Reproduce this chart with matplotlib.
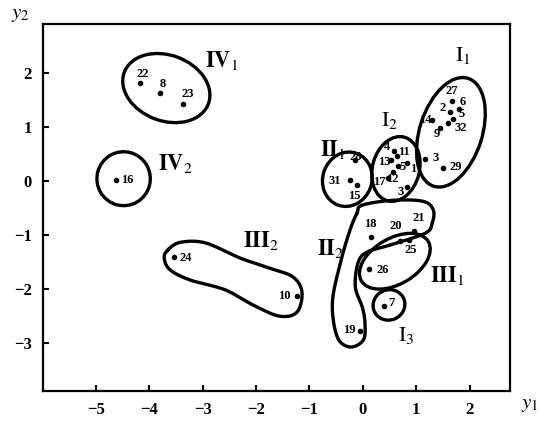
import numpy as np
import matplotlib
matplotlib.use("Agg")
import matplotlib.pyplot as plt
from matplotlib.patches import Ellipse

plt.rcParams['font.family'] = ['Liberation Serif', 'DejaVu Serif']
plt.rcParams['mathtext.fontset'] = 'stix'

# -- sample scores (y1, y2) and labels
ids   = ['22', '8', '23', '16', '24', '10',
         '27', '6', '2', '5', '32', '14', '9', '3', '29',
         '4', '11', '13', '5', '12', '1', '17', '3',
         '28', '31', '15',
         '18', '20', '21', '25', '26', '7', '19']
y1    = [-4.18, -3.80, -3.37, -4.62, -3.53, -1.24,
         1.67, 1.80, 1.63, 1.69, 1.60, 1.30, 1.45, 1.17, 1.50,
         0.59, 0.64, 0.53, 0.66, 0.57, 0.83, 0.47, 0.83,
         -0.14, -0.24, -0.11,
         0.16, 0.70, 0.96, 0.87, 0.12, 0.40, -0.05]
y2    = [1.82, 1.62, 1.43, 0.01, -1.42, -2.13,
         1.48, 1.33, 1.27, 1.14, 1.07, 1.12, 0.98, 0.40, 0.24,
         0.55, 0.46, 0.38, 0.27, 0.16, 0.33, 0.05, -0.12,
         0.38, 0.01, -0.08,
         -1.04, -1.12, -0.93, -1.10, -1.64, -2.32, -2.79]
# label offsets in pixels
offs  = [(3, 9), (3, 9), (5, 10), (11, 0), (11, -1), (-12, 0),
         (0, 10), (4, 7), (-7, 4), (9, 5), (13, -5), (-7, 0), (-3, -6), (10, 1), (13, 1),
         (-7, 4), (7, 4), (-7, -2), (5, -1), (-1, -7), (6, -6), (-9, -4), (-7, -5),
         (0, 3), (-15, -1), (-3, -11),
         (-1, 13), (-4, 15), (5, 13), (1, -10), (13, -1), (7, 3), (-11, 1)]

# -- groups drawn as ellipses: centre, width, height, angle
ell_x   = [-3.68, -4.48, 1.65, 0.62, -0.29, 0.60, 0.49]
ell_y   = [1.72, 0.04, 0.90, 0.22, 0.03, -1.49, -2.30]
ell_w   = [1.68, 1.00, 2.10, 0.88, 0.92, 1.45, 0.60]
ell_h   = [1.22, 1.00, 1.17, 1.22, 1.02, 0.85, 0.56]
ell_ang = [-20, 30, 72, -15, -20, 30, 20]

# -- irregular group outlines (III2 and II2)
out3_x = [-3.65, -3.42, -2.95, -2.30, -1.74, -1.31, -1.14, -1.23, -1.55, -2.02, -2.58, -3.23, -3.61, -3.72]
out3_y = [-1.28, -1.14, -1.15, -1.43, -1.62, -1.78, -2.06, -2.43, -2.51, -2.32, -2.02, -1.84, -1.65, -1.43]
out2_x = [-0.11, -0.01, 0.57, 1.13, 1.32, 1.30, 1.17, 0.51, 0.08, -0.09, -0.14, -0.01, 0.04, 0.01, -0.24, -0.48, -0.57, -0.42, -0.24]
out2_y = [-0.60, -0.45, -0.36, -0.38, -0.54, -0.78, -0.97, -1.19, -1.32, -1.52, -1.97, -2.34, -2.63, -2.95, -3.08, -2.89, -2.26, -1.52, -0.91]

# -- group names
grp_txt = [r'$\mathbf{IV}_1$', r'$\mathbf{IV}_2$', r'$\mathbf{III}_2$', r'$\mathrm{I}_1$', r'$\mathrm{I}_2$',
           r'$\mathbf{II}_1$', r'$\mathbf{II}_2$', r'$\mathbf{III}_1$', r'$\mathrm{I}_3$']
grp_x   = [-2.95, -3.83, -2.24, 1.73, 0.34, -0.80, -0.86, 1.26, 0.66]
grp_y   = [2.24, 0.33, -1.10, 2.33, 1.12, 0.58, -1.25, -1.75, -2.86]

xticks = [-5, -4, -3, -2, -1, 0, 1, 2]
yticks = [-3, -2, -1, 0, 1, 2]


def closedSpline(px, py, n=20):
    """ Catmull-Rom closed curve through the outline vertices """
    P = np.column_stack([px, py])
    m = len(P)
    pts = []
    for i in range(m):
        p0, p1, p2, p3 = P[i-1], P[i], P[(i+1) % m], P[(i+2) % m]
        for t in np.linspace(0, 1, n, endpoint=False):
            t2, t3 = t*t, t*t*t
            pts.append(0.5*((2*p1) + (-p0+p2)*t + (2*p0-5*p1+4*p2-p3)*t2 + (-p0+3*p1-3*p2+p3)*t3))
    pts.append(pts[0])
    pts = np.array(pts)
    return pts[:, 0], pts[:, 1]


fig = plt.figure(figsize=(5.49, 4.21), dpi=100)
ax = fig.add_axes([0.0783, 0.072, 0.851, 0.870])

lw = 2.4
for cx, cy, w, h, a in zip(ell_x, ell_y, ell_w, ell_h, ell_ang):
    ax.add_patch(Ellipse((cx, cy), w, h, angle=a, fill=False, lw=lw, ec='black'))
for ox, oy in [(out3_x, out3_y), (out2_x, out2_y)]:
    sx, sy = closedSpline(ox, oy)
    ax.plot(sx, sy, '-', c='black', lw=lw)

ax.plot(y1, y2, 'o', c='black', ms=3)
for lab, xx, yy, (dx, dy) in zip(ids, y1, y2, offs):
    ax.annotate(lab, (xx, yy), xytext=(dx, dy), textcoords='offset pixels',
                ha='center', va='center', fontsize=9, fontweight='bold')

for t, gx, gy in zip(grp_txt, grp_x, grp_y):
    ax.text(gx, gy, t, fontsize=16, ha='left', va='center')

ax.set_xlim(-5.99, 2.76)
ax.set_ylim(-3.89, 2.90)
ax.set_xticks(xticks)
ax.set_yticks(yticks)
ax.set_xticklabels([('\u2212%d' % -v) if v < 0 else '%d' % v for v in xticks], fontweight='bold', fontsize=12)
ax.set_yticklabels([('\u2212%d' % -v) if v < 0 else '%d' % v for v in yticks], fontweight='bold', fontsize=12)
ax.tick_params(direction='in', length=4, width=1.5, pad=8)
for s in ax.spines.values():
    s.set_linewidth(1.6)

fig.text(20/549, 1-15/421, r'$y_2$', fontsize=15, ha='center', va='center')
fig.text(530/549, 1-405/421, r'$y_1$', fontsize=15, ha='center', va='center')

plt.savefig('out.png', dpi=100)
